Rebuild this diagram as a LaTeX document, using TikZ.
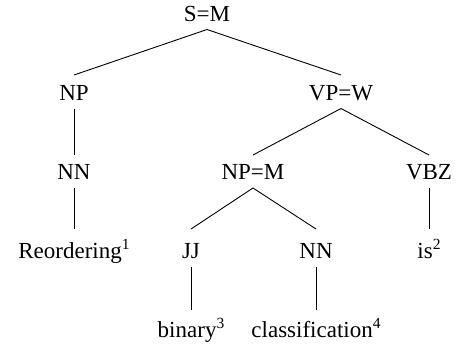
\documentclass[tikz,border=0pt]{standalone}
\usepackage{fontspec}
\setmainfont{Liberation Serif}
\usetikzlibrary{calc}
\newcommand\supn[1]{\raisebox{8.5pt}{\fontsize{15.5}{16}\selectfont #1}}
\begin{document}
\begin{tikzpicture}[x=1pt,y=-1pt,
  lbl/.style={anchor=base,inner sep=0pt,font=\fontsize{23}{27}\selectfont},
  edge/.style={line width=0.9pt,black}]
\useasboundingbox (0,0) rectangle (457,349);
% level 1
\node[lbl] (s) at (207,21) {S=M};
% level 2
\node[lbl] (np) at (74,100) {NP};
\node[lbl] (vp) at (341,100) {VP=W};
% level 3
\node[lbl] (nn1) at (74,179) {NN};
\node[lbl] (npm) at (253,179) {NP=M};
\node[lbl] (vbz) at (429,179) {VBZ};
% level 4
\node[lbl] (w1) at (74,258) {Reordering\supn{1}};
\node[lbl] (jj) at (191,258) {JJ};
\node[lbl] (nn2) at (316,258) {NN};
\node[lbl] (w2) at (429,258) {is\supn{2}};
% level 5
\node[lbl] (w3) at (191,337) {binary\supn{3}};
\node[lbl] (w4) at (316,337) {classification\supn{4}};
% edges
\draw[edge] ($(s.base)+(0,8.5)$) -- ($(np.base)+(0,-25)$);
\draw[edge] ($(s.base)+(0,8.5)$) -- ($(vp.base)+(0,-25)$);
\draw[edge] ($(np.base)+(0,8.5)$) -- ($(nn1.base)+(0,-24)$);
\draw[edge] ($(vp.base)+(0,8.5)$) -- ($(npm.base)+(0,-24)$);
\draw[edge] ($(vp.base)+(0,8.5)$) -- ($(vbz.base)+(0,-24)$);
\draw[edge] ($(nn1.base)+(0,9)$) -- ($(nn1.base |- w1.base)+(0,-29)$);
\draw[edge] ($(npm.base)+(0,9)$) -- ($(jj.base)+(0,-29)$);
\draw[edge] ($(npm.base)+(0,9)$) -- ($(nn2.base)+(0,-29)$);
\draw[edge] ($(vbz.base)+(0,9)$) -- ($(vbz.base |- w2.base)+(0,-29)$);
\draw[edge] ($(jj.base)+(0,9)$) -- ($(jj.base |- w3.base)+(0,-27)$);
\draw[edge] ($(nn2.base)+(0,9)$) -- ($(nn2.base |- w4.base)+(0,-27)$);
\end{tikzpicture}
\end{document}
